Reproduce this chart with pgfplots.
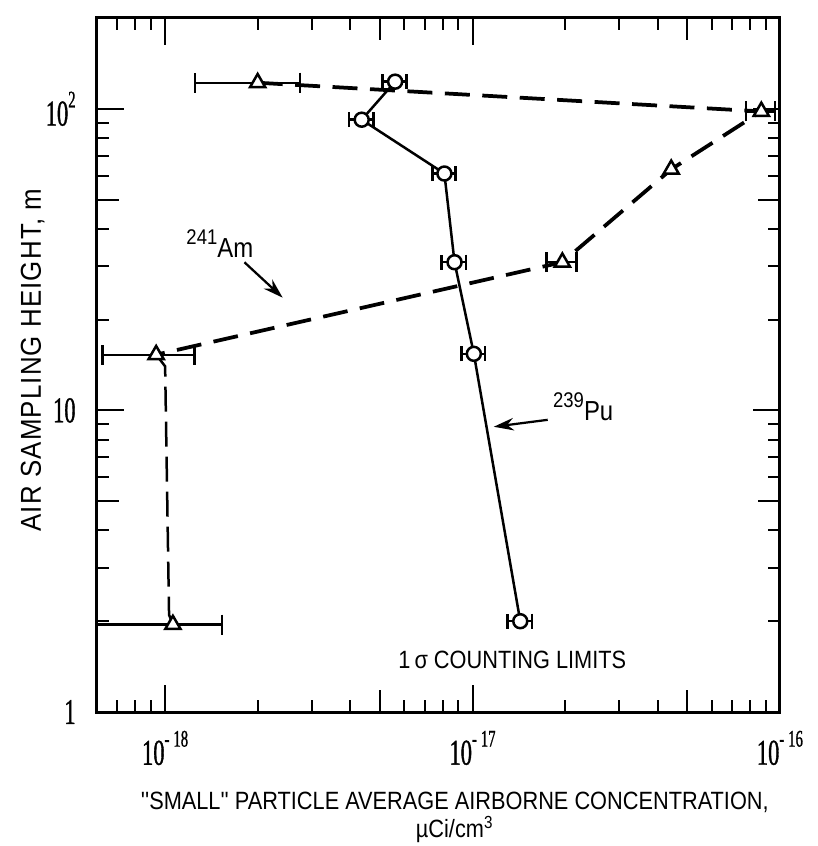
\documentclass[border=0pt]{standalone}
\usepackage{pgfplots}
\pgfplotsset{compat=1.18}
\usetikzlibrary{arrows.meta}
\usepackage{fontspec}
\setmainfont{Liberation Sans}[FakeStretch=0.87]
\newfontfamily\qfont{Liberation Sans}[FakeStretch=0.87, Ligatures=TeXOff]
\newfontfamily\ylabfont{Liberation Sans}[FakeStretch=0.9, LetterSpace=4]
\newfontfamily\tickfont{Liberation Serif}[FakeStretch=0.62, FakeBold=1]
% tick label "10^n" in the narrow serif face
\newcommand{\tl}[1]{{\tickfont\fontsize{14.5}{14.5}\selectfont 10\raisebox{0.5em}{\fontsize{9.5}{9.5}\selectfont #1}}}

\begin{document}
\begin{tikzpicture}
\begin{axis}[
  width=273.2pt, height=277.6pt, scale only axis,
  xmode=log, ymode=log,
  xmin=6e-19, xmax=1e-16, ymin=1, ymax=200,
  axis line style={line width=1.2pt},
  tick style={line width=0.8pt, black},
  major tick length=10.8pt, minor tick length=4.8pt,
  xtick={1e-18,1e-17,1e-16},
  xticklabels={\tl{-\,18},\tl{-\,17},\tl{-\,16}},
  minor xtick={7e-19,8e-19,9e-19,2e-18,3e-18,4e-18,6e-18,7e-18,8e-18,9e-18,2e-17,3e-17,4e-17,6e-17,7e-17,8e-17,9e-17},
  ytick={1,10,100},
  yticklabels={{\tickfont\fontsize{14.5}{14.5}\selectfont 1},{\tickfont\fontsize{14.5}{14.5}\selectfont 10},\tl{2}},
  minor ytick={2,3,4,6,7,8,9,20,30,40,60,70,80,90},
  extra x ticks={5e-18,5e-17}, extra x tick labels={},
  extra y ticks={5,50}, extra y tick labels={},
  extra tick style={major tick length=8.8pt},
  xticklabel style={yshift=-4pt},
  yticklabel style={xshift=-5pt},
  xlabel={{\qfont''}SMALL{\qfont''} PARTICLE AVERAGE AIRBORNE CONCENTRATION,\\µCi/cm\textsuperscript{3}},
  xlabel style={at={(axis description cs:0.524,-0.152)}, anchor=center, align=center, font=\fontsize{10}{11.5}\selectfont},
  ylabel={AIR SAMPLING HEIGHT, m},
  ylabel style={at={(axis description cs:-0.094,0.507)}, anchor=center, font=\ylabfont\fontsize{11.5}{13}\selectfont},
]
\coordinate (ll) at (rel axis cs:0,0);
% 241Am
\addplot[black, line width=1.5pt, dash pattern=on 10pt off 5pt] coordinates {
  (2.0e-18,122) (8.7e-17,98) (4.43e-17,63) (1.96e-17,31) (9.35e-19,15.3)
};
\addplot[black, line width=1pt, dash pattern=on 10pt off 4pt] coordinates {
  (9.35e-19,15.3) (1.0e-18,14) (1.03e-18,2.1) (1.06e-18,1.95)
};
\addplot[black, only marks, mark=triangle*, mark size=3.5pt,
  mark options={fill=white, draw=black, line width=1pt},
  error bars/.cd, x dir=both, x explicit,
  error bar style={line width=0.9pt},
  error mark options={rotate=90, mark size=4pt, line width=1pt}] coordinates {
  (2.0e-18,122) +- (0.75e-18,0)
  (8.7e-17,98) +- (0.95e-17,0)
  (1.96e-17,31) +- (0.22e-17,0)
  (9.35e-19,15.3) +- (0.31e-18,0)
  (1.06e-18,1.95) +- (0.47e-18,0)
};
\addplot[black, only marks, mark=triangle*, mark size=3.5pt,
  mark options={fill=white, draw=black, line width=1pt}] coordinates {
  (4.43e-17,63)
};
% 239Pu
\addplot[black, line width=1pt, mark=*, mark size=2.8pt,
  mark options={fill=white, draw=black, line width=1pt},
  error bars/.cd, x dir=both, x explicit,
  error bar style={line width=1pt},
  error mark options={rotate=90, mark size=3pt, line width=1pt}] coordinates {
  (5.6e-18,123) +- (0.5e-18,0)
  (4.36e-18,92) +- (0.4e-18,0)
  (8.1e-18,61) +- (0.7e-18,0)
  (8.74e-18,31) +- (0.8e-18,0)
  (1.01e-17,15.4) +- (0.9e-18,0)
  (1.43e-17,2) +- (1.3e-18,0)
};
% annotations
\node[font=\fontsize{11}{13}\selectfont] at (rel axis cs:0.180,0.675)
  {\raisebox{0.5em}{\fontsize{8.5}{8.5}\selectfont 241}Am};
\draw[-{Stealth[length=8pt,width=5pt]}, line width=0.9pt]
  (rel axis cs:0.216,0.648) -- (rel axis cs:0.272,0.597);
\node[font=\fontsize{11}{13}\selectfont] at (rel axis cs:0.712,0.440)
  {\raisebox{0.5em}{\fontsize{8.5}{8.5}\selectfont 239}Pu};
\draw[-{Stealth[length=8pt,width=5pt]}, line width=0.9pt]
  (rel axis cs:0.660,0.421) -- (rel axis cs:0.581,0.411);
\node[font=\fontsize{10}{12}\selectfont] at (rel axis cs:0.608,0.075) {1\,σ COUNTING LIMITS};
\end{axis}
\pgfresetboundingbox
\useasboundingbox ([shift={(-38.8pt,-53.6pt)}]ll) rectangle ([shift={(288.4pt,284.8pt)}]ll);
\end{tikzpicture}
\end{document}
